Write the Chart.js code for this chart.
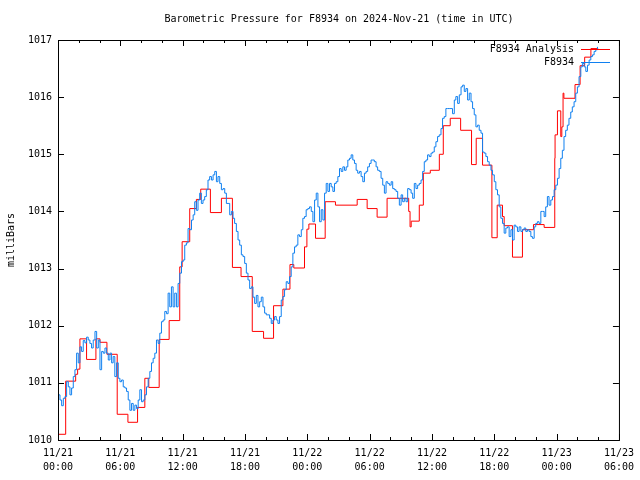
<!DOCTYPE html>
<html>
<head>
<meta charset="utf-8">
<script src="https://cdn.jsdelivr.net/npm/chart.js@4.4.1/dist/chart.umd.min.js"></script>
<style>
  html, body { margin: 0; padding: 0; background: #fff; }
  canvas { display: block; }
</style>
</head>
<body>
<canvas id="chart" width="640" height="480"></canvas>
<script>
// hours since 2024-11-21 00:00 UTC
const xTickDays = ['11/21', '11/21', '11/21', '11/21', '11/22', '11/22', '11/22', '11/22', '11/23', '11/23'];
const xTickTimes = ['00:00', '06:00', '12:00', '18:00', '00:00', '06:00', '12:00', '18:00', '00:00', '06:00'];
const yTicks = [1010, 1011, 1012, 1013, 1014, 1015, 1016, 1017];

// F8934 Analysis (red, held until next change)
const analysisHours = [
  0, 0.74, 1.70, 1.89, 2.11, 2.75, 3.65, 4.04, 4.71, 5.70, 6.73, 7.66, 8.36, 8.74, 9.74, 10.7,
  11.72, 11.95, 12.68, 13.32, 13.74, 14.67, 15.73, 16.79, 17.62, 18.7, 19.79, 20.75, 21.65,
  22.33, 22.7, 23.73, 23.96, 24.15, 24.79, 25.72, 26.71, 28.8, 29.76, 30.72, 31.68, 33.76,
  33.89, 34.0, 34.78, 35.17, 35.84, 36.71, 37.09, 37.76, 38.76, 39.81, 40.26, 40.87, 41.77,
  42.28, 42.79, 42.95, 43.75, 44.71, 45.77, 46.8, 47.82, 47.85, 48.08, 48.4, 48.5, 48.62,
  48.7, 49.77, 50.26, 50.7, 51.3, 52.0
];
const analysisValues = [
  1010.10, 1011.03, 1011.15, 1011.24, 1011.77, 1011.41, 1011.77, 1011.71, 1011.50, 1010.45,
  1010.31, 1010.57, 1011.08, 1010.92, 1011.76, 1012.09, 1013.03, 1013.47, 1014.05, 1014.21,
  1014.39, 1013.98, 1014.23, 1013.02, 1012.86, 1011.90, 1011.78, 1012.35, 1012.64, 1013.07,
  1013.01, 1013.38, 1013.69, 1013.78, 1013.53, 1014.17, 1014.11, 1014.21, 1014.05, 1013.90,
  1014.23, 1014.00, 1013.73, 1013.83, 1014.11, 1014.67, 1014.72, 1015.00, 1015.50, 1015.63,
  1015.42, 1014.82, 1015.28, 1014.81, 1013.54, 1014.11, 1013.91, 1013.75, 1013.20, 1013.68,
  1013.77, 1013.72, 1014.93, 1015.34, 1015.76, 1015.31, 1015.48, 1016.07, 1015.98, 1016.22,
  1016.55, 1016.70, 1016.85, 1016.85
];

// F8934 station observations (blue)
const stationHours = [
  0.03, 0.19, 0.35, 0.51, 0.67, 0.83, 0.99, 1.15, 1.31, 1.47, 1.63, 1.79, 1.95, 2.11, 2.27,
  2.43, 2.59, 2.75, 2.91, 3.07, 3.23, 3.39, 3.56, 3.72, 3.88, 4.04, 4.20, 4.36, 4.52, 4.68,
  4.84, 5.00, 5.16, 5.31, 5.47, 5.64, 5.80, 5.96, 6.12, 6.28, 6.44, 6.60, 6.76, 6.92, 7.08,
  7.24, 7.40, 7.56, 7.72, 7.88, 8.04, 8.20, 8.36, 8.52, 8.68, 8.84, 9.00, 9.16, 9.32, 9.48,
  9.64, 9.80, 9.96, 10.12,
  10.28, 10.44, 10.60, 10.76, 10.92, 11.08, 11.24, 11.40, 11.56, 11.72, 11.89, 12.05, 12.20,
  12.36, 12.52, 12.68, 12.85, 13.01, 13.16, 13.32, 13.48, 13.64, 13.80, 13.96, 14.12, 14.28,
  14.44, 14.60, 14.77, 14.93, 15.09, 15.25, 15.40, 15.57, 15.73, 15.89, 16.05, 16.21, 16.37,
  16.53, 16.69, 16.85, 17.00, 17.17, 17.33, 17.49, 17.65, 17.81, 17.97, 18.13, 18.29, 18.45,
  18.61, 18.77, 18.93, 19.09, 19.25, 19.41, 19.57, 19.73, 19.89, 20.05, 20.21, 20.37, 20.53,
  20.69, 20.85, 21.01, 21.17,
  21.33, 21.49, 21.65, 21.81, 21.97, 22.13, 22.29, 22.45, 22.61, 22.77, 22.93, 23.09, 23.25,
  23.42, 23.57, 23.73, 23.89, 24.05, 24.21, 24.38, 24.54, 24.70, 24.86, 25.02, 25.18, 25.34,
  25.50, 25.66, 25.82, 25.98, 26.14, 26.30, 26.46, 26.62, 26.78, 26.94, 27.10, 27.26, 27.42,
  27.58, 27.74, 27.90, 28.06, 28.22, 28.38, 28.54, 28.70, 28.85, 29.02, 29.18, 29.34, 29.50,
  29.66, 29.81, 29.98, 30.14, 30.30, 30.45, 30.62, 30.77, 30.94, 31.10, 31.26, 31.42, 31.58,
  31.74,
  31.90, 32.07, 32.22, 32.38, 32.54, 32.70, 32.86, 33.03, 33.18, 33.34, 33.50, 33.66, 33.82,
  33.99, 34.14, 34.30, 34.46, 34.62, 34.78, 34.95, 35.10, 35.26, 35.42, 35.58, 35.74, 35.91,
  36.06, 36.22, 36.38, 36.54, 36.70, 36.87, 37.02, 37.18, 37.34, 37.50, 37.66, 37.83, 37.98,
  38.15, 38.30, 38.47, 38.63, 38.80, 38.95, 39.11, 39.27, 39.43, 39.59, 39.76, 39.91, 40.07,
  40.23, 40.39, 40.55, 40.72, 40.87, 41.03, 41.19, 41.35, 41.51, 41.68, 41.83, 42.00, 42.15,
  42.31,
  42.47, 42.63, 42.79, 42.95, 43.11, 43.27, 43.43, 43.60, 43.75, 43.91, 44.07, 44.23, 44.39,
  44.56, 44.71, 44.87, 45.03, 45.19, 45.35, 45.52, 45.67, 45.84, 45.99, 46.15, 46.31, 46.48,
  46.64, 46.80, 46.95, 47.11, 47.27, 47.44, 47.60, 47.76, 47.92, 48.08, 48.24, 48.40, 48.55,
  48.71, 48.87, 49.03, 49.19, 49.36, 49.51, 49.68, 49.84, 50.00, 50.16, 50.33, 50.48, 50.65,
  50.81, 50.97, 51.13, 51.29, 51.45, 51.61, 51.77, 51.93
];
const stationValues = [
  1010.79, 1010.70, 1010.60, 1010.73, 1010.76, 1011.02, 1010.93, 1010.79, 1010.91, 1011.11,
  1011.23, 1011.52, 1011.35, 1011.63, 1011.55, 1011.74, 1011.70, 1011.80, 1011.75, 1011.69,
  1011.61, 1011.75, 1011.90, 1011.61, 1011.75, 1011.23, 1011.55, 1011.52, 1011.61, 1011.52,
  1011.40, 1011.52, 1011.35, 1011.46, 1011.11, 1011.35, 1011.08, 1011.02, 1011.05, 1010.93,
  1010.91, 1010.85, 1010.70, 1010.52, 1010.64, 1010.52, 1010.61, 1010.55, 1010.70, 1010.88,
  1010.67, 1010.70, 1010.79, 1010.93, 1011.08, 1011.20, 1011.35, 1011.43, 1011.52, 1011.75,
  1011.69, 1011.87, 1012.07, 1012.10,
  1012.25, 1012.21, 1012.57, 1012.33, 1012.68, 1012.33, 1012.57, 1012.33, 1012.74, 1012.92,
  1013.12, 1013.15, 1013.41, 1013.45, 1013.70, 1013.68, 1013.85, 1013.94, 1014.17, 1014.02,
  1014.20, 1014.32, 1014.14, 1014.20, 1014.26, 1014.38, 1014.55, 1014.61, 1014.55, 1014.64,
  1014.70, 1014.52, 1014.61, 1014.49, 1014.38, 1014.40, 1014.32, 1014.14, 1014.14, 1013.94,
  1014.00, 1013.88, 1013.79, 1013.65, 1013.50, 1013.41, 1013.24, 1013.21, 1013.09, 1012.92,
  1012.80, 1012.65, 1012.68, 1012.50, 1012.39, 1012.53, 1012.33, 1012.42, 1012.50, 1012.33,
  1012.22, 1012.19, 1012.19, 1012.13, 1012.04, 1012.10, 1012.16, 1012.10, 1012.04,
  1012.16, 1012.45, 1012.51, 1012.63, 1012.77, 1012.74, 1012.86, 1013.03, 1013.27, 1013.38,
  1013.41, 1013.59, 1013.56, 1013.68, 1013.88, 1013.91, 1014.03, 1014.05, 1014.08, 1014.00,
  1013.82, 1014.20, 1014.32, 1014.08, 1013.82, 1014.03, 1013.85, 1014.32, 1014.49, 1014.35,
  1014.49, 1014.43, 1014.35, 1014.49, 1014.52, 1014.61, 1014.75, 1014.70, 1014.78, 1014.72,
  1014.78, 1014.90, 1014.93, 1014.99, 1014.90, 1014.84, 1014.72, 1014.67, 1014.70, 1014.61,
  1014.52, 1014.67, 1014.70, 1014.78, 1014.84, 1014.90, 1014.90, 1014.87, 1014.78, 1014.72,
  1014.70, 1014.58, 1014.46, 1014.32, 1014.52, 1014.49,
  1014.46, 1014.52, 1014.40, 1014.38, 1014.35, 1014.23, 1014.11, 1014.29, 1014.17, 1014.23,
  1014.17, 1014.40, 1014.38, 1014.32, 1014.23, 1014.49, 1014.40, 1014.46, 1014.49, 1014.55,
  1014.70, 1014.87, 1014.90, 1014.99, 1014.96, 1015.02, 1015.04, 1015.13, 1015.22, 1015.31,
  1015.34, 1015.45, 1015.63, 1015.66, 1015.80, 1015.80, 1015.80, 1015.80, 1015.71, 1015.95,
  1016.01, 1015.89, 1016.04, 1016.18, 1016.21, 1016.10, 1016.15, 1015.95, 1016.07, 1015.92,
  1015.80, 1015.69, 1015.48, 1015.51, 1015.42, 1015.37, 1015.04, 1015.02, 1014.96, 1014.87,
  1014.81, 1014.72, 1014.64, 1014.52, 1014.38, 1014.29,
  1014.08, 1013.88, 1013.79, 1013.62, 1013.71, 1013.73, 1013.56, 1013.68, 1013.50, 1013.76,
  1013.73, 1013.65, 1013.73, 1013.65, 1013.68, 1013.71, 1013.65, 1013.68, 1013.65, 1013.56,
  1013.53, 1013.73, 1013.79, 1013.82, 1013.79, 1014.00, 1014.00, 1013.91, 1014.08, 1014.26,
  1014.11, 1014.20, 1014.26, 1014.38, 1014.46, 1014.58, 1014.75, 1014.93, 1015.07, 1015.31,
  1015.42, 1015.51, 1015.63, 1015.74, 1015.83, 1015.92, 1016.07, 1016.18, 1016.36, 1016.53,
  1016.59, 1016.53, 1016.45, 1016.56, 1016.65, 1016.71, 1016.74, 1016.80, 1016.83, 1016.88
];

const RED = '#ff0000';
const BLUE = '#1080f0';
const FONT = 'DejaVu Sans Mono';

function toPoints(xs, ys) {
  return xs.map((x, i) => ({ x: x, y: ys[i] }));
}

// gnuplot look: frame, inward ticks (mirrored), title, y label, key
const gnuplotFrame = {
  id: 'gnuplotFrame',
  afterDatasetsDraw(chart) {
    const ctx = chart.ctx;
    const a = chart.chartArea;
    const xs = chart.scales.x;
    const ys = chart.scales.y;
    ctx.save();
    ctx.strokeStyle = '#000';
    ctx.lineWidth = 1;
    ctx.beginPath();
    for (let h = 0; h <= 54; h += 2) {
      const px = Math.round(xs.getPixelForValue(h)) + 0.5;
      const len = h % 6 === 0 ? 6 : 3;
      ctx.moveTo(px, a.bottom); ctx.lineTo(px, a.bottom - len);
      ctx.moveTo(px, a.top); ctx.lineTo(px, a.top + len);
    }
    yTicks.forEach(v => {
      const py = Math.round(ys.getPixelForValue(v)) + 0.5;
      ctx.moveTo(a.left, py); ctx.lineTo(a.left + 6, py);
      ctx.moveTo(a.right, py); ctx.lineTo(a.right - 6, py);
    });
    ctx.stroke();
    ctx.strokeRect(a.left + 0.5, a.top + 0.5, a.right - a.left, a.bottom - a.top);

    // key
    ctx.font = '10px ' + FONT;
    ctx.fillStyle = '#000';
    ctx.textAlign = 'right';
    ctx.textBaseline = 'middle';
    const keys = [['F8934 Analysis', RED], ['F8934', BLUE]];
    keys.forEach((k, i) => {
      const y = 49.5 + i * 13;
      ctx.fillText(k[0], 574, y);
      ctx.strokeStyle = k[1];
      ctx.beginPath();
      ctx.moveTo(581, y); ctx.lineTo(610, y);
      ctx.stroke();
    });

    // title and y label
    ctx.textAlign = 'center';
    ctx.fillText('Barometric Pressure for F8934 on 2024-Nov-21 (time in UTC)', 339, 19);
    ctx.translate(11, 240);
    ctx.rotate(-Math.PI / 2);
    ctx.fillText('milliBars', 0, 0);
    ctx.restore();
  }
};

Chart.defaults.font.family = FONT;
Chart.defaults.font.size = 10;
Chart.defaults.color = '#000';

new Chart(document.getElementById('chart'), {
  type: 'line',
  data: {
    datasets: [
      {
        label: 'F8934 Analysis',
        data: toPoints(analysisHours, analysisValues),
        borderColor: RED,
        borderWidth: 1,
        pointRadius: 0,
        stepped: true,
        order: 2
      },
      {
        label: 'F8934',
        data: toPoints(stationHours, stationValues),
        borderColor: BLUE,
        borderWidth: 1,
        pointRadius: 0,
        stepped: true,
        order: 1
      }
    ]
  },
  options: {
    responsive: false,
    animation: false,
    devicePixelRatio: 1,
    layout: { padding: { top: 40, right: 20, left: 0, bottom: 0 } },
    plugins: {
      legend: { display: false },
      tooltip: { enabled: false },
      title: { display: false }
    },
    scales: {
      x: {
        type: 'linear',
        min: 0,
        max: 54,
        afterFit: s => { s.height = 40; },
        afterBuildTicks: s => { s.ticks = xTickTimes.map((t, i) => ({ value: i * 6 })); },
        grid: { display: false, drawTicks: false },
        border: { display: false },
        ticks: {
          padding: 6,
          maxRotation: 0,
          autoSkip: false,
          font: { lineHeight: 1.4 },
          callback: (v, i) => [xTickDays[i], xTickTimes[i]]
        }
      },
      y: {
        min: 1010,
        max: 1017,
        afterFit: s => { s.width = 58; },
        afterBuildTicks: s => { s.ticks = yTicks.map(v => ({ value: v })); },
        grid: { display: false, drawTicks: false },
        border: { display: false },
        ticks: {
          padding: 6,
          callback: v => String(v)
        }
      }
    }
  },
  plugins: [gnuplotFrame]
});
</script>
</body>
</html>
